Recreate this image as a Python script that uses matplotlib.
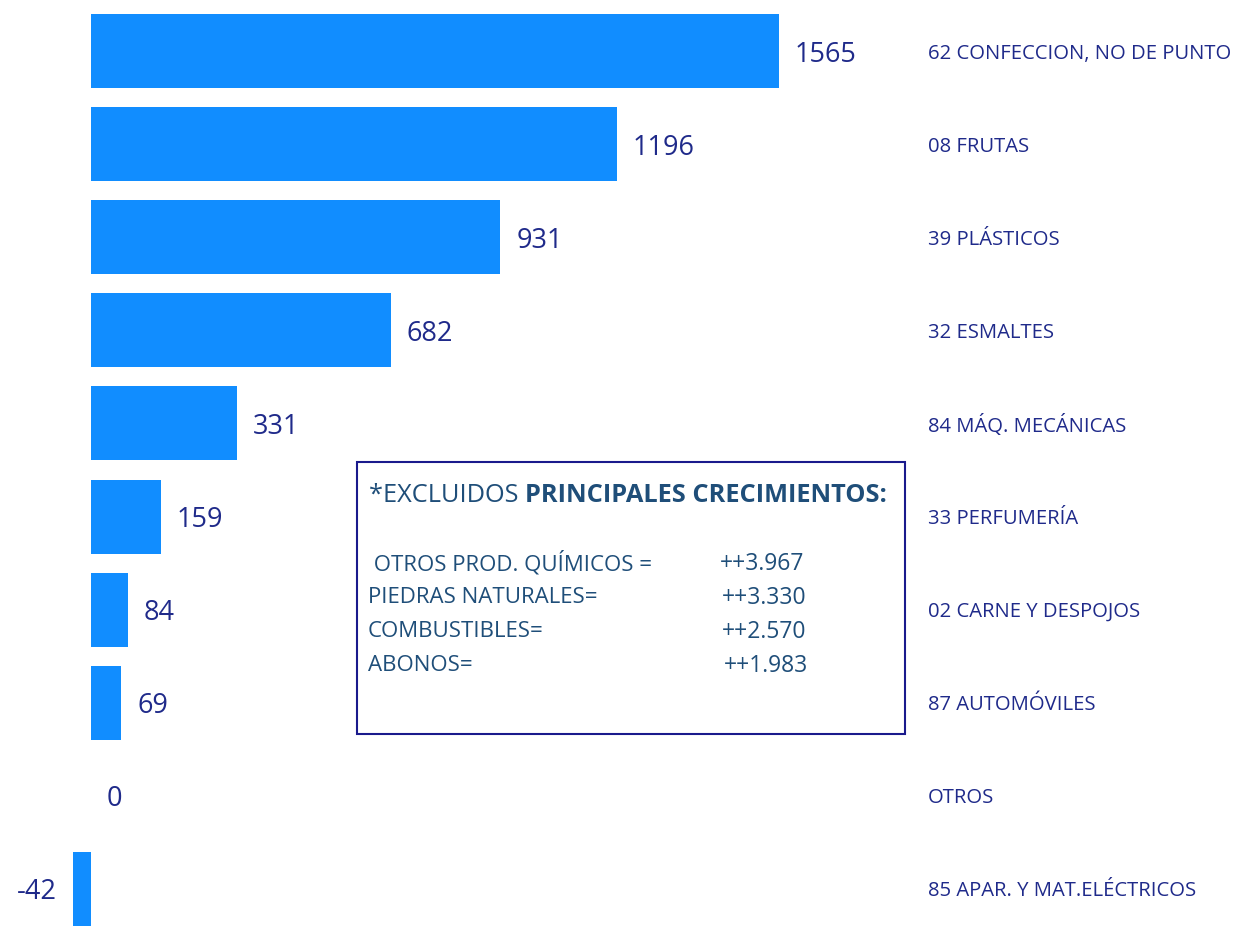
import matplotlib
matplotlib.use('Agg')
import matplotlib.pyplot as plt
from matplotlib.patches import Rectangle

plt.rcParams['font.family'] = ['Open Sans', 'DejaVu Sans']

# Categories and values
categories = ['62 CONFECCION, NO DE PUNTO', '08 FRUTAS', '39 PLÁSTICOS', '32 ESMALTES',
              '84 MÁQ. MECÁNICAS', '33 PERFUMERÍA', '02 CARNE Y DESPOJOS',
              '87 AUTOMÓVILES', 'OTROS', '85 APAR. Y MAT.ELÉCTRICOS']
values = [1565, 1196, 931, 682, 331, 159, 84, 69, 0, -42]

# Note box contents
box_title = '*EXCLUIDOS '
box_title_bold = 'PRINCIPALES CRECIMIENTOS:'
box_items = [' OTROS PROD. QUÍMICOS =', 'PIEDRAS NATURALES=', 'COMBUSTIBLES=', 'ABONOS=']
box_values = ['++3.967', '++3.330', '++2.570', '++1.983']

bar_color = '#118dff'
label_color = '#1f2a8a'
box_text_color = '#1f4e79'

W, H = 1241, 926
fig = plt.figure(figsize=(W / 100, H / 100), dpi=100)
ax = fig.add_axes([0, 0, 1, 1])

px_per_unit = 688 / 1565
ax.set_xlim(-91 / px_per_unit, (W - 91) / px_per_unit)
bh = 0.795
pitch = 912 / (9 + bh)
ax.set_ylim(9 + bh / 2, -bh / 2 - 14 / pitch)

ypos = list(range(len(values)))
ax.barh(ypos, values, height=bh, color=bar_color)

off = 16 / px_per_unit
for y, v, c in zip(ypos, values, categories):
    if v >= 0:
        ax.text(v + off, y, str(v), ha='left', va='center_baseline', fontsize=19.5,
                color=label_color)
    else:
        ax.text(v - off, y, str(v), ha='right', va='center_baseline', fontsize=19.5,
                color=label_color)
    ax.text(928 / W, y, c, transform=ax.get_yaxis_transform(), ha='left',
            va='center_baseline', fontsize=14.6, color=label_color)

ax.axis('off')

# Note box
bx0, by0, bx1, by1 = 357, 462, 905, 734
fig.patches.append(Rectangle((bx0 / W, 1 - by1 / H), (bx1 - bx0) / W, (by1 - by0) / H,
                             transform=fig.transFigure, fill=False, edgecolor='#1a1a8c',
                             linewidth=1.5))
t = fig.text(369 / W, 1 - 493 / H, box_title, ha='left', va='center_baseline', fontsize=18.3,
             color=box_text_color)
fig.canvas.draw()
bb = t.get_window_extent()
fig.text(bb.x1 / W, 1 - 493 / H, box_title_bold, ha='left', va='center_baseline',
         fontsize=18.3, color=box_text_color, fontweight='bold')

line_y = [561, 595, 629, 663]
val_x = [720, 722, 722, 724]
for ly, item, val, vx in zip(line_y, box_items, box_values, val_x):
    fig.text(368 / W, 1 - ly / H, item, ha='left', va='center_baseline', fontsize=16,
             color=box_text_color)
    fig.text(vx / W, 1 - ly / H, val, ha='left', va='center_baseline', fontsize=16.5,
             color=box_text_color)

fig.savefig('out.png', dpi=100)
